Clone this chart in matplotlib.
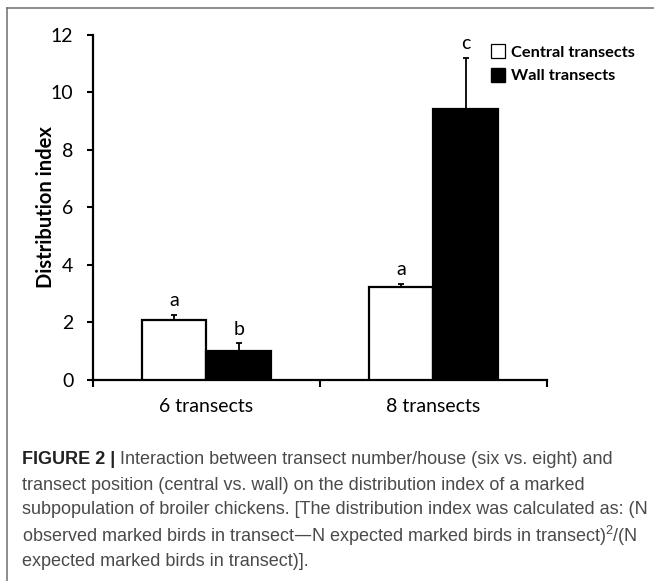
import matplotlib
matplotlib.use("Agg")
import matplotlib.pyplot as plt
from matplotlib.lines import Line2D
import numpy as np

# group means and upper error (SE) for the distribution index
groups = ["6 transects", "8 transects"]
central = [2.07, 3.25]
central_err = [0.19, 0.09]
wall = [1.00, 9.43]
wall_err = [0.28, 1.77]
central_letters = ["a", "a"]
wall_letters = ["b", "c"]

caption_head = "FIGURE 2 |"
caption_lines = [
    " Interaction between transect number/house (six vs. eight) and",
    "transect position (central vs. wall) on the distribution index of a marked",
    "subpopulation of broiler chickens. [The distribution index was calculated as: (N",
    "observed marked birds in transect\u2014N expected marked birds in transect)$^{2}$/(N",
    "expected marked birds in transect)].",
]

plt.rcParams["font.family"] = "Lato"
plt.rcParams["mathtext.default"] = "regular"

fig = plt.figure(figsize=(6.54, 5.81), dpi=100)
ax = fig.add_axes([0.142, 0.346, 0.694, 0.594])

x = np.arange(len(groups))
w = 0.285
ax.bar(x - w / 2, central, w, color="white", edgecolor="black", linewidth=1.6,
       yerr=[[0, 0], central_err], error_kw=dict(ecolor="black", elinewidth=1.3, capsize=2.2, capthick=1.3),
       zorder=3)
ax.bar(x + w / 2, wall, w, color="black", edgecolor="black", linewidth=1.6,
       yerr=[[0, 0], wall_err], error_kw=dict(ecolor="black", elinewidth=1.3, capsize=2.2, capthick=1.3),
       zorder=3)

for xi, v, e, s in zip(x - w / 2, central, central_err, central_letters):
    ax.annotate(s, (xi, v + e), xytext=(0, 4), textcoords="offset points",
                ha="center", va="bottom", fontsize=14)
for xi, v, e, s in zip(x + w / 2, wall, wall_err, wall_letters):
    ax.annotate(s, (xi, v + e), xytext=(0, 4), textcoords="offset points",
                ha="center", va="bottom", fontsize=14)

ax.set_xlim(-0.5, 1.5)
ax.set_ylim(0, 12)
ax.set_yticks(range(0, 13, 2))
ax.tick_params(axis="y", direction="out", length=4, width=1.5, labelsize=14, pad=10)

# category boundaries get the tick marks, names sit between them
ax.set_xticks([-0.5, 0.5, 1.5])
ax.set_xticklabels([])
ax.set_xticks(x, minor=True)
ax.set_xticklabels(groups, minor=True, fontsize=14)
ax.tick_params(axis="x", which="major", direction="out", length=5, width=1.5)
ax.tick_params(axis="x", which="minor", length=0, pad=13)

for side in ["top", "right"]:
    ax.spines[side].set_visible(False)
for side in ["left", "bottom"]:
    ax.spines[side].set_linewidth(1.6)

ax.set_ylabel("Distribution index", fontsize=14.5, fontweight="bold", labelpad=-4)

handles = [
    Line2D([], [], marker="s", linestyle="none", markersize=9.5, markerfacecolor="white",
           markeredgecolor="black", markeredgewidth=0.9),
    Line2D([], [], marker="s", linestyle="none", markersize=9.5, markerfacecolor="black",
           markeredgecolor="black"),
]
leg = fig.legend(handles, ["Central transects", "Wall transects"], loc="upper left",
                 bbox_to_anchor=(0.742, 0.933), frameon=False, handlelength=0.8,
                 handletextpad=0.4, labelspacing=0.55, borderaxespad=0,
                 prop=dict(family="Lato", weight="bold", size=11.8))

# panel border: top edge and left edge
fig.add_artist(Line2D([7 / 654, 1], [1 - 8 / 581, 1 - 8 / 581], color="#6e6e6e", linewidth=1.1))
fig.add_artist(Line2D([7 / 654, 7 / 654], [0, 1 - 8 / 581], color="#6e6e6e", linewidth=1.1))

# caption
cap_x = 22 / 654
cap_y = [459, 485, 510, 536, 561]
cap_font = dict(family="Liberation Sans", size=13, va="center")
head = fig.text(cap_x, 1 - cap_y[0] / 581, caption_head, color="#222222", fontweight="bold", **cap_font)
fig.canvas.draw()
bb = head.get_window_extent()
fig.text(bb.x1 / fig.bbox.width, 1 - cap_y[0] / 581, caption_lines[0], color="#4a4a4a", **cap_font)
for yy, line in zip(cap_y[1:], caption_lines[1:]):
    fig.text(cap_x, 1 - yy / 581, line, color="#4a4a4a", **cap_font)

fig.savefig("out.png", dpi=100)
